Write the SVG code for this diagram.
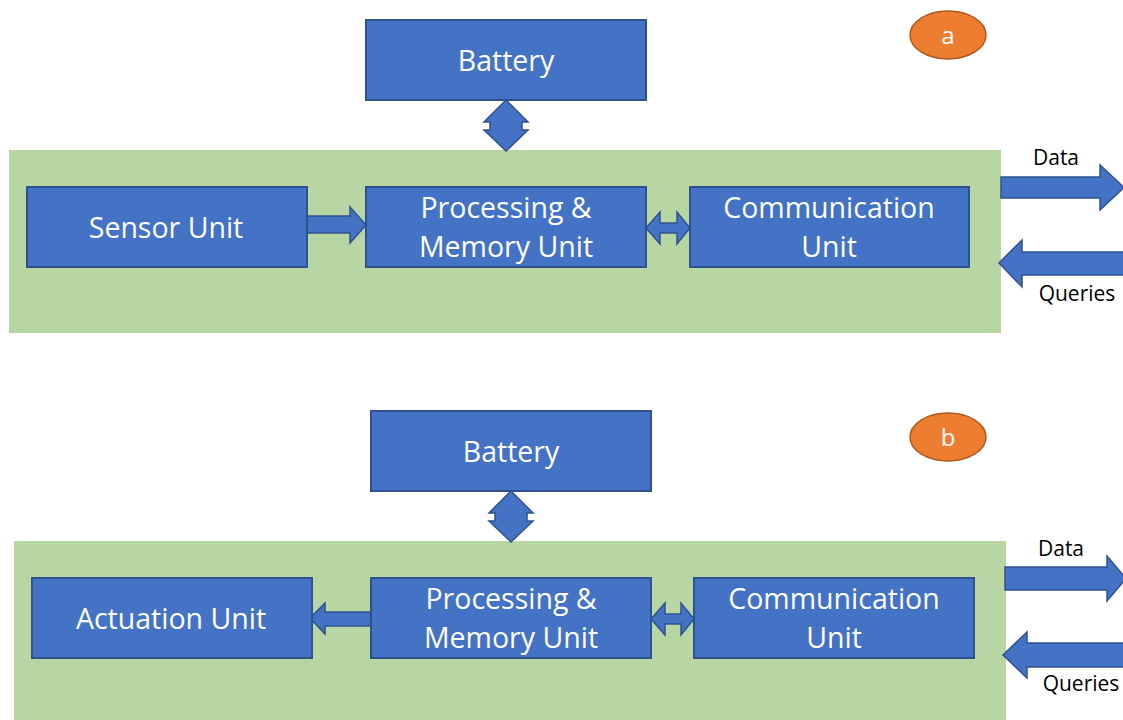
<svg xmlns="http://www.w3.org/2000/svg" width="1123" height="720" viewBox="0 0 1123 720">
  <style>
    .panel { fill: #B8D6A4; }
    .box { fill: #4472C4; stroke: #2F528F; stroke-width: 2; }
    .arrow { fill: #4472C4; stroke: #2F528F; stroke-width: 1.5; stroke-linejoin: miter; }
    .label { font-family: "Open Sans", "Liberation Sans", sans-serif; font-size: 28.5px; fill: #FFFFFF; text-anchor: middle; }
    .side { font-family: "Open Sans", "Liberation Sans", sans-serif; font-size: 21px; fill: #000000; text-anchor: middle; }
    .badge { fill: #ED7D31; stroke: #AE5A21; stroke-width: 1.5; }
    .badgeText { font-family: "Open Sans", "Liberation Sans", sans-serif; font-size: 24px; fill: #FFFFFF; text-anchor: middle; }
  </style>
  <rect width="1123" height="720" fill="#FFFFFF"/>

  <!-- Panel a -->
  <rect id="panel-a" class="panel" x="9" y="150" width="992" height="183"/>
  <!-- Panel b -->
  <rect id="panel-b" class="panel" x="14" y="541" width="992" height="185"/>

  <g id="connectors">
    <!-- a: battery double arrow -->
    <polygon class="arrow" points="506,100 528,122 522,122 522,130 528,130 506,151 484,130 490,130 490,122 484,122"/>
    <!-- a: sensor to processing -->
    <polygon class="arrow" points="307,216 350,216 350,207 366,225 350,243 350,233 307,233"/>
    <!-- a: processing <-> communication -->
    <polygon class="arrow" points="646,228 660,212 660,223 677,223 677,212 690,228 677,244 677,233 660,233 660,244"/>
    <!-- a: data out -->
    <polygon class="arrow" points="1001,177 1100,177 1100,165 1124,187.5 1100,210 1100,198 1001,198"/>
    <!-- a: queries in -->
    <polygon class="arrow" points="999,263 1022,240 1022,252 1126,252 1126,275 1022,275 1022,287"/>

    <!-- b: battery double arrow -->
    <polygon class="arrow" points="511,491 533,513 527,513 527,521 533,521 511,542 489,521 495,521 495,513 489,513"/>
    <!-- b: processing to actuation -->
    <polygon class="arrow" points="310,618 325,603 325,612 372,612 372,626 325,626 325,634"/>
    <!-- b: processing <-> communication -->
    <polygon class="arrow" points="651,619 665,603 665,614 681,614 681,603 694,619 681,635 681,624 665,624 665,635"/>
    <!-- b: data out -->
    <polygon class="arrow" points="1005,567 1107,567 1107,556 1126,578.5 1107,601 1107,590 1005,590"/>
    <!-- b: queries in -->
    <polygon class="arrow" points="1003,655 1027,632 1027,643 1126,643 1126,667 1027,667 1027,678"/>
  </g>

  <!-- Panel a nodes -->
  <g id="battery-a">
    <rect class="box" x="366" y="20" width="280" height="80"/>
    <text class="label" x="506" y="71">Battery</text>
  </g>
  <g id="sensor-unit">
    <rect class="box" x="27" y="187" width="280" height="80"/>
    <text class="label" x="166" y="238">Sensor Unit</text>
  </g>
  <g id="processing-a">
    <rect class="box" x="366" y="187" width="280" height="80"/>
    <text class="label" x="506" y="218">Processing &amp;</text>
    <text class="label" x="506" y="257">Memory Unit</text>
  </g>
  <g id="communication-a">
    <rect class="box" x="690" y="187" width="279" height="80"/>
    <text class="label" x="829" y="218">Communication</text>
    <text class="label" x="829" y="257">Unit</text>
  </g>
  <g id="label-data-a">
    <text class="side" x="1056" y="165">Data</text>
  </g>
  <g id="label-queries-a">
    <text class="side" x="1077" y="301">Queries</text>
  </g>
  <g id="badge-a">
    <ellipse class="badge" cx="948" cy="35" rx="38" ry="24"/>
    <text class="badgeText" x="948" y="44">a</text>
  </g>

  <!-- Panel b nodes -->
  <g id="battery-b">
    <rect class="box" x="371" y="411" width="280" height="80"/>
    <text class="label" x="511" y="462">Battery</text>
  </g>
  <g id="actuation-unit">
    <rect class="box" x="32" y="578" width="280" height="80"/>
    <text class="label" x="171" y="629">Actuation Unit</text>
  </g>
  <g id="processing-b">
    <rect class="box" x="371" y="578" width="280" height="80"/>
    <text class="label" x="511" y="609">Processing &amp;</text>
    <text class="label" x="511" y="648">Memory Unit</text>
  </g>
  <g id="communication-b">
    <rect class="box" x="694" y="578" width="280" height="80"/>
    <text class="label" x="834" y="609">Communication</text>
    <text class="label" x="834" y="648">Unit</text>
  </g>
  <g id="label-data-b">
    <text class="side" x="1061" y="556">Data</text>
  </g>
  <g id="label-queries-b">
    <text class="side" x="1081" y="691">Queries</text>
  </g>
  <g id="badge-b">
    <ellipse class="badge" cx="948" cy="437" rx="38" ry="24"/>
    <text class="badgeText" x="948" y="446">b</text>
  </g>
</svg>
